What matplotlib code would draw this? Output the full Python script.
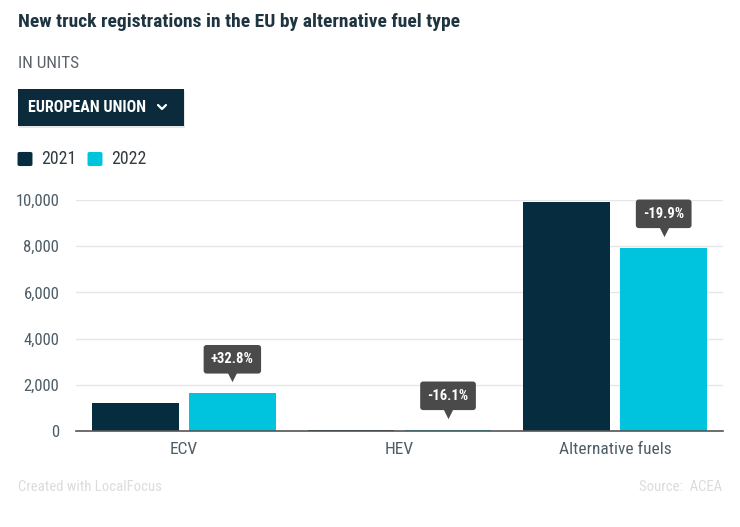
import matplotlib
matplotlib.use("Agg")
import matplotlib.pyplot as plt
import numpy as np
from matplotlib import font_manager
from matplotlib.patches import FancyBboxPatch
from matplotlib.lines import Line2D
from matplotlib.transforms import offset_copy

categories = ["ECV", "HEV", "Alternative fuels"]
years = ["2021", "2022"]
values_2021 = [1230, 62, 9900]
values_2022 = [1633, 52, 7930]
changes = ["+32.8%", "-16.1%", "-19.9%"]
y_ticks = [0, 2000, 4000, 6000, 8000, 10000]

DARK = "#062c40"
CYAN = "#00c4dd"
TEXT = "#4d5c66"
W, H = 740, 527

names = {f.name for f in font_manager.fontManager.ttflist}
FONT = "Roboto"
for cand in ["Roboto Condensed", "Liberation Sans Narrow"]:
    if cand in names:
        FONT = cand
        break
plt.rcParams["font.family"] = [FONT, "DejaVu Sans"]


def fx(px):
    return px / W


def fy(py):
    return 1 - py / H


fig = plt.figure(figsize=(W / 100, H / 100), dpi=100)

# header
fig.text(fx(18), fy(22), "New truck registrations in the EU by alternative fuel type",
         fontsize=14, fontweight="bold", color="#1e3441", va="center", ha="left")
fig.text(fx(18), fy(63), "IN UNITS", fontsize=12.3, color="#5a6168", va="center", ha="left")

# dropdown button
shadow = FancyBboxPatch((fx(19), fy(128)), fx(166), fy(91) - fy(128),
                        boxstyle="square,pad=0", transform=fig.transFigure,
                        fc="#d8d8d8", ec="none", alpha=0.6)
fig.add_artist(shadow)
box = FancyBboxPatch((fx(18), fy(126)), fx(166), fy(89) - fy(126),
                     boxstyle="square,pad=0", transform=fig.transFigure,
                     fc="#0b2b3d", ec="none")
fig.add_artist(box)
fig.text(fx(28), fy(107.5), "EUROPEAN UNION", fontsize=11.5, fontweight="bold",
         color="white", va="center", ha="left")
fig.add_artist(Line2D([fx(158), fx(162), fx(166)], [fy(105), fy(109), fy(105)],
                      transform=fig.transFigure, color="white", lw=1.6,
                      solid_capstyle="round", solid_joinstyle="round"))

# legend
for x0, col, label in [(18, DARK, years[0]), (88, CYAN, years[1])]:
    sq = FancyBboxPatch((fx(x0 + 1), fy(165)), fx(12), fy(153) - fy(165),
                        boxstyle="round,pad=0.002,rounding_size=0.003",
                        transform=fig.transFigure, fc=col, ec="none")
    fig.add_artist(sq)
    fig.text(fx(x0 + 23), fy(159), label, fontsize=12.8, color="#333b40",
             va="center", ha="left")

# chart
ax = fig.add_axes([fx(76), fy(431), fx(723 - 76), (431 - 200) / H])
x = np.arange(len(categories))
bw = 0.403
off = 0.225
ax.bar(x - off, values_2021, width=bw, color=DARK, zorder=3)
ax.bar(x + off, values_2022, width=bw, color=CYAN, zorder=3)

ax.set_xlim(-0.5, 2.5)
ax.set_ylim(0, 10000)
ax.set_yticks(y_ticks)
ax.set_yticklabels([f"{v:,}" for v in y_ticks])
ax.set_xticks(x)
ax.set_xticklabels(categories)
ax.tick_params(axis="y", length=0, labelsize=12, labelcolor=TEXT, pad=12)
ax.tick_params(axis="x", length=0, labelsize=12.5, labelcolor=TEXT, pad=8)
ax.grid(axis="y", color="#e6e6e6", lw=1, zorder=0)
for s in ["top", "right", "left"]:
    ax.spines[s].set_visible(False)
ax.spines["bottom"].set_color("#555555")
ax.spines["bottom"].set_linewidth(1.2)
ax.spines["bottom"].set_zorder(4)

# change tooltips
tip_tr = offset_copy(ax.transData, fig=fig, x=0, y=16, units="dots")
for i, (v, lab) in enumerate(zip(values_2022, changes)):
    ax.annotate(lab, (x[i] + off, v), xytext=(0, 34 * 72 / 100), textcoords="offset points",
                ha="center", va="center", fontsize=10.5, fontweight="bold", color="white",
                bbox=dict(boxstyle="round,pad=0.5,rounding_size=0.2", fc="#4a4a4a", ec="none"),
                zorder=6, annotation_clip=False)
    ax.scatter([x[i] + off], [v], marker="v", s=45, color="#4a4a4a", transform=tip_tr,
               zorder=6, clip_on=False, linewidths=0)

# footer
fig.text(fx(18), fy(487), "Created with LocalFocus", fontsize=10.6, color="#dcdcdc",
         va="center", ha="left")
fig.text(fx(722), fy(487), "Source:  ACEA", fontsize=10.6, color="#dcdcdc",
         va="center", ha="right")

fig.savefig("out.png", dpi=100)
